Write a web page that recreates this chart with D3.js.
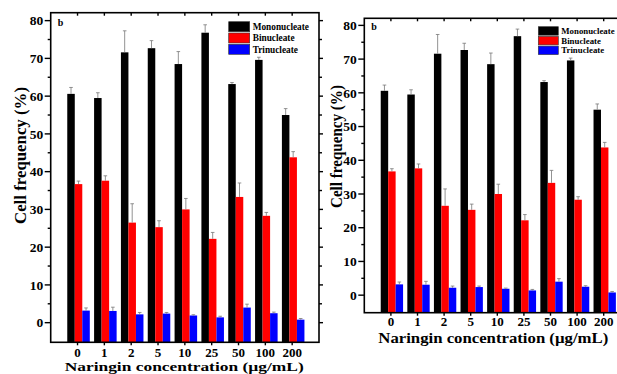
<!DOCTYPE html>
<html>
<head>
<meta charset="utf-8">
<script src="https://cdn.jsdelivr.net/npm/d3@7"></script>
<style>
  body { margin: 0; background: #fff; }
  svg { display: block; }
  text { font-family: "Liberation Serif", "Times New Roman", serif; font-weight: bold; fill: #000; }
</style>
</head>
<body>
<svg id="chart" width="617" height="374"></svg>
<script>
// data (same data in both panels)
const categories = ["0", "1", "2", "5", "10", "25", "50", "100", "200"];
const seriesNames = ["Mononucleate", "Binucleate", "Trinucleate"];
const seriesColors = ["#000000", "#ff0000", "#0000ff"];
const mono = [60.6, 59.5, 71.6, 72.7, 68.5, 76.8, 63.2, 69.6, 55.0];
const monoErr = [1.7, 1.4, 5.7, 2.0, 3.3, 2.1, 0.4, 0.7, 1.7];
const bi = [36.7, 37.6, 26.5, 25.3, 30.0, 22.2, 33.3, 28.3, 43.8];
const biErr = [0.8, 1.3, 5.0, 1.7, 2.9, 1.7, 3.7, 0.9, 1.5];
const tri = [3.2, 3.1, 2.2, 2.4, 1.9, 1.4, 4.0, 2.5, 0.8];
const triErr = [0.7, 1.0, 0.5, 0.3, 0.2, 0.3, 0.9, 0.3, 0.3];
const yMajor = [0, 10, 20, 30, 40, 50, 60, 70, 80];
const yMinor = [5, 15, 25, 35, 45, 55, 65, 75];

const values = [mono, bi, tri];
const errors = [monoErr, biErr, triErr];

const svg = d3.select("#chart");

// ---- one panel
function drawPanel(p) {
  const g = svg.append("g");
  const x = d3.scaleLinear().domain([-1, 9]).range([p.left, p.right]);
  const y = d3.scaleLinear().domain([-5.2, 82.1]).range([p.bottom, p.top]);
  const bw = (x(1) - x(0)) * 0.28;

  // bars (drawn down to the bottom axis like the original)
  values.forEach((vals, s) => {
    g.append("g").selectAll("rect").data(vals).join("rect")
      .attr("x", (d, i) => x(i) + 1 - 1.5 * bw + s * bw)
      .attr("y", d => y(d))
      .attr("width", bw)
      .attr("height", d => y(-5.2) - y(d))
      .attr("fill", seriesColors[s]);
  });

  // error bars (upper only)
  values.forEach((vals, s) => {
    const eg = g.append("g").attr("stroke", "#777").attr("stroke-width", 0.8);
    vals.forEach((v, i) => {
      const cx = x(i) + 1 - 1.5 * bw + s * bw + bw / 2;
      eg.append("line").attr("x1", cx).attr("x2", cx)
        .attr("y1", y(v)).attr("y2", y(v + errors[s][i]));
      eg.append("line").attr("x1", cx - 1.8).attr("x2", cx + 1.8)
        .attr("y1", y(v + errors[s][i])).attr("y2", y(v + errors[s][i]));
    });
  });

  // frame
  g.append("rect")
    .attr("x", p.left).attr("y", p.top)
    .attr("width", p.right - p.left).attr("height", p.bottom - p.top)
    .attr("fill", "none").attr("stroke", "#000").attr("stroke-width", 1.6);

  // y ticks: left (with labels) and right
  const tk = g.append("g").attr("stroke", "#000").attr("stroke-width", 1.4);
  yMajor.forEach(v => {
    tk.append("line").attr("x1", p.left - 6).attr("x2", p.left).attr("y1", y(v)).attr("y2", y(v));
    tk.append("line").attr("x1", p.right).attr("x2", p.right + 4).attr("y1", y(v)).attr("y2", y(v));
  });
  yMinor.forEach(v => {
    tk.append("line").attr("x1", p.left - 3).attr("x2", p.left).attr("y1", y(v)).attr("y2", y(v));
    tk.append("line").attr("x1", p.right).attr("x2", p.right + 3).attr("y1", y(v)).attr("y2", y(v));
  });
  categories.forEach((c, i) => {
    tk.append("line").attr("x1", x(i)).attr("x2", x(i)).attr("y1", p.bottom).attr("y2", p.bottom + 3);
    tk.append("line").attr("x1", x(i)).attr("x2", x(i)).attr("y1", p.top).attr("y2", p.top + 3);
  });

  g.append("g").selectAll("text").data(yMajor).join("text")
    .attr("x", p.left - 7.5).attr("y", d => y(d)).attr("dy", "0.35em")
    .attr("text-anchor", "end").attr("font-size", 13.5)
    .text(d => d);

  g.append("g").selectAll("text").data(categories).join("text")
    .attr("x", (d, i) => x(i)).attr("y", p.bottom + p.xLabDy)
    .attr("text-anchor", "middle").attr("font-size", p.xLabFont)
    .text(d => d);

  // axis titles
  g.append("text")
    .attr("x", p.left + 14).attr("y", p.bottom + p.xTitleDy)
    .attr("font-size", p.xTitleFont)
    .attr("textLength", p.xTitleLen).attr("lengthAdjust", "spacingAndGlyphs")
    .text("Naringin concentration (\u00b5g/mL)");

  g.append("text")
    .attr("transform", `translate(${p.yTitleX},${p.yTitleY}) rotate(-90)`)
    .attr("text-anchor", "middle").attr("dominant-baseline", "central")
    .attr("font-size", 16)
    .attr("textLength", p.yTitleLen).attr("lengthAdjust", "spacingAndGlyphs")
    .text("Cell frequency (%)");

  // panel letter
  g.append("text").attr("x", p.left + 7).attr("y", p.top + p.bDy)
    .attr("font-size", 10).text("b");

  // legend
  const lg = g.append("g");
  seriesNames.forEach((n, s) => {
    lg.append("rect")
      .attr("x", p.legX).attr("y", p.legY + s * p.legStep)
      .attr("width", p.legW).attr("height", p.legH)
      .attr("fill", seriesColors[s]).attr("stroke", "#333").attr("stroke-width", 0.6);
    lg.append("text")
      .attr("x", p.legX + p.legW + 3).attr("y", p.legY + s * p.legStep + p.legH / 2)
      .attr("dy", "0.35em").attr("font-size", p.legFont)
      .text(n);
  });
}

drawPanel({
  left: 50.7, right: 319, top: 12.7, bottom: 342.3,
  xLabFont: 13, xLabDy: 14.2, xTitleDy: 29, xTitleFont: 13.5, xTitleLen: 239,
  yTitleX: 20, yTitleY: 155.5, yTitleLen: 137, bDy: 13.5,
  legX: 228.7, legY: 21.7, legW: 21, legH: 10, legStep: 11.3, legFont: 9.3
});

drawPanel({
  left: 364.3, right: 630.3, top: 18.3, bottom: 312.7,
  xLabFont: 13, xLabDy: 13.5, xTitleDy: 30.5, xTitleFont: 15, xTitleLen: 230,
  yTitleX: 336, yTitleY: 146.5, yTitleLen: 123, bDy: 11.5,
  legX: 538.3, legY: 26.7, legW: 20, legH: 8.5, legStep: 9.7, legFont: 8.8
});
</script>
</body>
</html>
